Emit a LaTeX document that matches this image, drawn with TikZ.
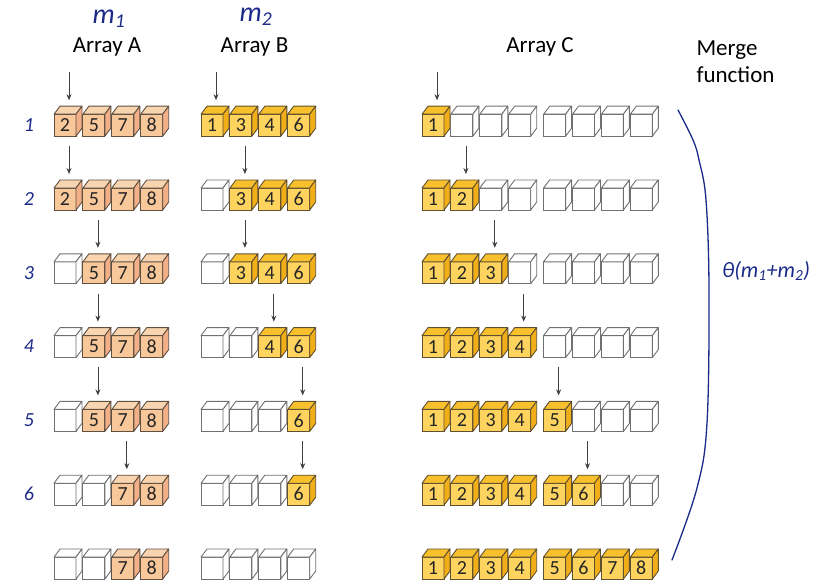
\documentclass[tikz,border=0pt]{standalone}
\usepackage{fontspec}
\setmainfont{Carlito}
\usetikzlibrary{arrows.meta,calc}
\definecolor{hand}{HTML}{1B2A88}
\definecolor{pF}{HTML}{F8C79A}
\definecolor{pT}{HTML}{F9D4B0}
\definecolor{pS}{HTML}{F2AF88}
\definecolor{pD}{HTML}{5F5040}
\definecolor{yF}{HTML}{FFD45E}
\definecolor{yT}{HTML}{F8C02C}
\definecolor{yS}{HTML}{F2AE18}
\definecolor{yD}{HTML}{5F5030}
\definecolor{wF}{HTML}{FFFFFF}
\definecolor{wT}{HTML}{FFFFFF}
\definecolor{wS}{HTML}{FFFFFF}
\definecolor{wD}{HTML}{707070}
\tikzset{
  cubefront/.style={rectangle, minimum width=22pt, minimum height=22pt, inner sep=0pt, outer sep=0pt,
    line width=0.9pt, font=\fontsize{20}{20}\selectfont, text=black!85},
  cubeline/.style={line width=0.9pt, line join=round},
  ptr/.style={draw=black!75, line width=0.8pt, -{Stealth[length=6pt,width=5pt]}},
  title/.style={font=\fontsize{23}{27}\selectfont, text=black},
  handtxt/.style={text=hand, font=\fontsize{20}{20}\selectfont\itshape},
}
\newcommand\cubeat[5]{%
  \node[cubefront, fill=#4F, draw=#4D, anchor=north west] (#1) at (#2,#3) {#5};
  \filldraw[fill=#4T, draw=#4D, cubeline] (#1.north west) -- ++(6,-8) -- ++(22,0) -- (#1.north east) -- cycle;
  \filldraw[fill=#4S, draw=#4D, cubeline] (#1.north east) -- ++(6,-8) -- ++(0,22) -- (#1.south east) -- cycle;
}
\newcommand\arr[4]{%
  \foreach \c/\t [count=\i] in {#4} {
    \pgfmathsetmacro\xx{#3+28.9*(\i-1)+(\i>4 ? 6 : 0)}
    \pgfmathsetmacro\yy{114.2+73.8*(#2-1)}
    \cubeat{#1#2-\i}{\xx}{\yy}{\c}{\t}
  }%
}
\newcommand\ptrto[1]{%
  \coordinate (#1-tail) at ($(#1.north west)+(15,-42)$);
  \coordinate (#1-tip) at ($(#1.north west)+(15,-14)$);
  \draw[ptr] (#1-tail) -- (#1-tip);
}
\begin{document}
\begin{tikzpicture}[x=1pt,y=-1pt]
\useasboundingbox (0,0) rectangle (826,588);

% titles
\node[title] (tA) at (107,47) {Array A};
\node[title] (tB) at (254.5,47) {Array B};
\node[title] (tC) at (540,47) {Array C};
\node[title, anchor=west, align=left] (tM) at (693,62) {Merge\\function};

% handwritten notes
\node[text=hand, font=\fontsize{28}{28}\selectfont\itshape] (m1) at (109,19) {m\textsubscript{1}};
\node[text=hand, font=\fontsize{28}{28}\selectfont\itshape] (m2) at (256,17) {m\textsubscript{2}};
\foreach \r in {1,...,6} {
  \node[handtxt] (lab\r) at (29,{125+73.8*(\r-1)}) {\r};
}
\node[text=hand, font=\fontsize{22}{22}\selectfont\itshape] (theta) at (766,271) {θ(m\textsubscript{1}+m\textsubscript{2})};
\draw[hand, line width=1.3pt, line cap=round] plot[smooth, tension=0.6] coordinates
  {(678,110) (693,140) (699,160) (706,200) (709,290) (707,423) (697,488) (672,560)};

% arrays
\arr{A}{1}{54}{p/2,p/5,p/7,p/8}
\arr{B}{1}{201}{y/1,y/3,y/4,y/6}
\arr{C}{1}{422}{y/1,w/{},w/{},w/{},w/{},w/{},w/{},w/{}}

\arr{A}{2}{54}{p/2,p/5,p/7,p/8}
\arr{B}{2}{201}{w/{},y/3,y/4,y/6}
\arr{C}{2}{422}{y/1,y/2,w/{},w/{},w/{},w/{},w/{},w/{}}

\arr{A}{3}{54}{w/{},p/5,p/7,p/8}
\arr{B}{3}{201}{w/{},y/3,y/4,y/6}
\arr{C}{3}{422}{y/1,y/2,y/3,w/{},w/{},w/{},w/{},w/{}}

\arr{A}{4}{54}{w/{},p/5,p/7,p/8}
\arr{B}{4}{201}{w/{},w/{},y/4,y/6}
\arr{C}{4}{422}{y/1,y/2,y/3,y/4,w/{},w/{},w/{},w/{}}

\arr{A}{5}{54}{w/{},p/5,p/7,p/8}
\arr{B}{5}{201}{w/{},w/{},w/{},y/6}
\arr{C}{5}{422}{y/1,y/2,y/3,y/4,y/5,w/{},w/{},w/{}}

\arr{A}{6}{54}{w/{},w/{},p/7,p/8}
\arr{B}{6}{201}{w/{},w/{},w/{},y/6}
\arr{C}{6}{422}{y/1,y/2,y/3,y/4,y/5,y/6,w/{},w/{}}

\arr{A}{7}{54}{w/{},w/{},p/7,p/8}
\arr{B}{7}{201}{w/{},w/{},w/{},w/{}}
\arr{C}{7}{422}{y/1,y/2,y/3,y/4,y/5,y/6,y/7,y/8}

% pointers
\ptrto{A1-1}\ptrto{B1-1}\ptrto{C1-1}
\ptrto{A2-1}\ptrto{B2-2}\ptrto{C2-2}
\ptrto{A3-2}\ptrto{B3-2}\ptrto{C3-3}
\ptrto{A4-2}\ptrto{B4-3}\ptrto{C4-4}
\ptrto{A5-2}\ptrto{B5-4}\ptrto{C5-5}
\ptrto{A6-3}\ptrto{B6-4}\ptrto{C6-6}
\end{tikzpicture}
\end{document}
